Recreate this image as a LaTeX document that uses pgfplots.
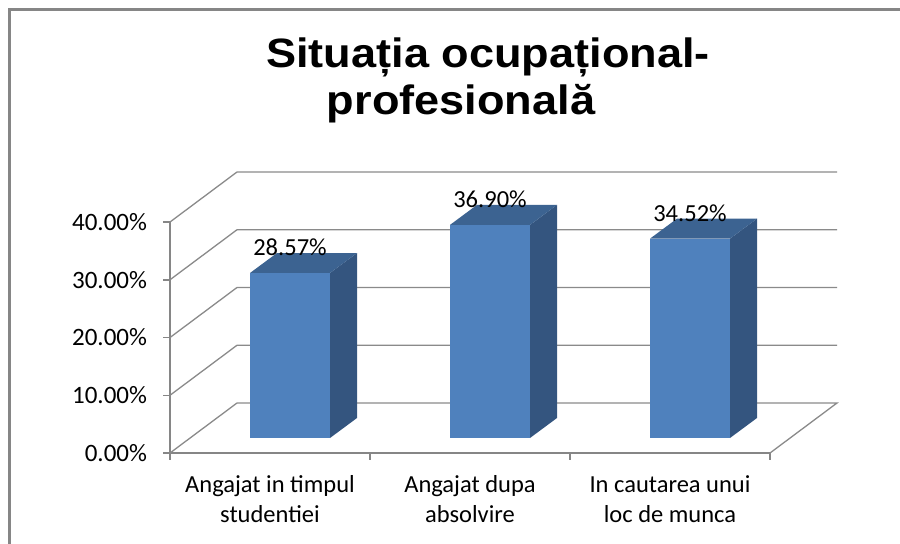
\documentclass[border=0pt]{standalone}
\usepackage{fontspec}
\setmainfont{Carlito}
\newfontfamily\titlefont{Liberation Sans}
\usepackage{graphicx}
\usepackage{pgfplots}
\pgfplotsset{compat=1.18}
\definecolor{barfront}{HTML}{4F81BD}
\definecolor{barside}{HTML}{34557F}
\definecolor{bartop}{HTML}{3C6391}
\definecolor{gridc}{HTML}{8A8A8A}
\definecolor{framec}{HTML}{868686}
\newcommand{\datafont}{\fontsize{24.5bp}{28bp}\selectfont}
\newcommand{\threedbar}[2]{%
  \pgfmathsetmacro\xa{#1+0.4}%
  \pgfmathsetmacro\xb{#1+0.8}%
  \pgfmathsetmacro\xc{#1+0.935}%
  \pgfmathsetmacro\xd{#1+0.535}%
  \pgfmathsetmacro\xm{#1+0.6}%
  \pgfmathsetmacro\ya{2.597}%
  \pgfmathsetmacro\yb{2.597+3.463}%
  \pgfmathsetmacro\yt{2.597+#2}%
  \pgfmathsetmacro\ytt{2.597+3.463+#2}%
  \edef\doit{%
    \noexpand\addplot[fill=barside, draw=none] coordinates {(\xb,\ya) (\xc,\yb) (\xc,\ytt) (\xb,\yt)};%
    \noexpand\addplot[fill=bartop, draw=none] coordinates {(\xa,\yt) (\xd,\ytt) (\xc,\ytt) (\xb,\yt)};%
    \noexpand\addplot[fill=barfront, draw=none] coordinates {(\xa,\ya) (\xb,\ya) (\xb,\yt) (\xa,\yt)};%
    \noexpand\node[anchor=base, yshift=-2.5bp, inner sep=0pt, font=\noexpand\datafont] at (axis cs:\xm,\ytt) {#2\noexpand\%};%
  }\doit
}
\begin{document}
\begin{tikzpicture}
\begin{axis}[
  at={(170bp,91bp)}, anchor=south west,
  scale only axis, width=600bp, height=231bp,
  xmin=0, xmax=3, ymin=0, ymax=40,
  clip=false,
  axis lines*=left,
  axis line style={draw=framec, line width=1.5bp},
  tick style={draw=framec, line width=1.5bp},
  tick align=outside,
  major tick length=6.5bp,
  xtick={0,1,2,3}, xticklabels={},
  extra x ticks={0.5,1.5,2.5},
  extra x tick labels={Angajat in timpul\\studentiei, Angajat dupa\\absolvire, In cautarea unui\\loc de munca},
  extra x tick style={major tick length=0pt, tick style={draw=none},
     xticklabel style={align=center, font=\fontsize{24.5bp}{30bp}\selectfont, yshift=-19bp}},
  ytick={0,10,20,30,40},
  yticklabels={0.00\%,10.00\%,20.00\%,30.00\%,40.00\%},
  yticklabel style={font=\fontsize{25bp}{28bp}\selectfont, xshift=-13bp},
]
% walls and floor
\addplot[gridc, line width=1.3bp] coordinates {(0,0) (0.335,8.658) (3.335,8.658) (3,0)};
\addplot[gridc, line width=1.3bp] coordinates {(0,10) (0.335,18.658) (3.335,18.658)};
\addplot[gridc, line width=1.3bp] coordinates {(0,20) (0.335,28.658) (3.335,28.658)};
\addplot[gridc, line width=1.3bp] coordinates {(0,30) (0.335,38.658) (3.335,38.658)};
\addplot[gridc, line width=1.3bp] coordinates {(0,40) (0.335,48.658) (3.335,48.658)};
% bars
\threedbar{0}{28.57}
\threedbar{1}{36.90}
\threedbar{2}{34.52}
\end{axis}
\node[anchor=base, font=\titlefont\bfseries\fontsize{41bp}{47bp}\selectfont] at (488bp,476bp) {\scalebox{1.1}[1]{Situația ocupațional-}};
\node[anchor=base, font=\titlefont\bfseries\fontsize{41bp}{47bp}\selectfont] at (461bp,429bp) {\scalebox{1.1}[1]{profesională}};
\draw[framec, line width=2.5bp] (9.5bp,0) -- (9.5bp,534.5bp) -- (900bp,534.5bp);
\pgfresetboundingbox
\path (0,0) rectangle (900bp,544bp);
\end{tikzpicture}
\end{document}
